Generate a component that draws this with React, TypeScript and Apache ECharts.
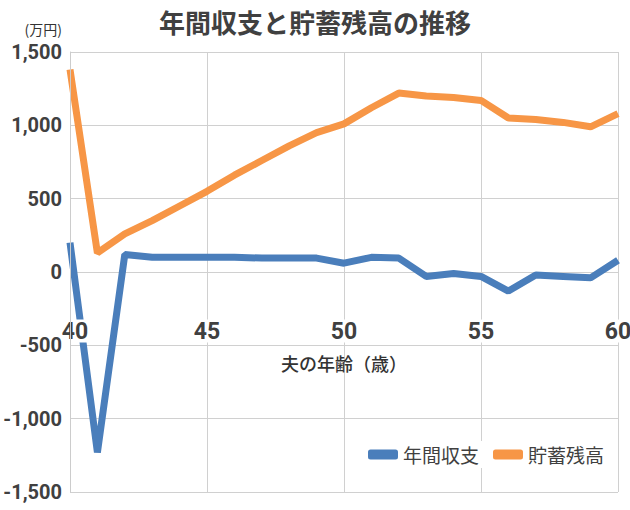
import React, { useEffect, useRef } from "react";
import * as echarts from "echarts";

const ages = [40, 41, 42, 43, 44, 45, 46, 47, 48, 49, 50, 51, 52, 53, 54, 55, 56, 57, 58, 59, 60];
const annualBalance = [200, -1230, 120, 100, 100, 100, 100, 95, 95, 95, 60, 100, 95, -30, -10, -30, -130, -20, -30, -40, 80];
const savings = [1380, 130, 260, 350, 450, 550, 660, 760, 860, 950, 1010, 1120, 1220, 1200, 1190, 1170, 1050, 1040, 1020, 990, 1080];
const seriesNames = ["年間収支", "貯蓄残高"];
const titleText = "年間収支と貯蓄残高の推移";
const xName = "夫の年齢（歳）";
const yName = "(万円)";

const numFont = "Roboto, 'Liberation Sans', sans-serif";
const cjkFont = "'Noto Sans CJK JP', 'Noto Sans', sans-serif";

export default function App() {
  const ref = useRef<HTMLDivElement>(null);
  useEffect(() => {
    if (!ref.current) return;
    const chart = echarts.init(ref.current, undefined, { renderer: "svg" });
    const labelStyle = {
      fontFamily: numFont,
      fontWeight: "bold",
      fontSize: 23,
      lineHeight: 18,
      color: "#404040",
      backgroundColor: "#fff",
    };
    chart.setOption({
      animation: false,
      backgroundColor: "#fff",
      title: {
        text: titleText,
        left: "center",
        top: 3,
        textStyle: { fontFamily: cjkFont, fontSize: 26, fontWeight: "bold", color: "#404040" },
      },
      legend: {
        data: seriesNames,
        left: 364,
        top: 441,
        icon: "roundRect",
        itemWidth: 30,
        itemHeight: 10,
        itemGap: 14,
        backgroundColor: "#fff",
        padding: [4, 4],
        textStyle: { fontFamily: cjkFont, fontSize: 19, color: "#404040" },
      },
      grid: { left: 70, right: 12, top: 52, bottom: 18, containLabel: false, outerBoundsMode: "none" },
      xAxis: [
        {
          type: "value",
          position: "bottom",
          min: 40,
          max: 60,
          interval: 5,
          z: 0,
          axisLine: { show: false },
          axisTick: { show: false },
          axisLabel: { show: false },
          splitLine: { show: true, lineStyle: { color: "#d0d0d0", width: 1 } },
        },
        {
          type: "value",
          position: "bottom",
          offset: -220,
          min: 40,
          max: 60,
          interval: 5,
          z: 10,
          name: xName,
          nameLocation: "middle",
          nameGap: 82,
          nameTextStyle: { fontFamily: cjkFont, fontSize: 18, fontWeight: 500, color: "#333" },
          axisLine: { show: false, onZero: false },
          axisTick: { show: false },
          axisLabel: {
            margin: 50,
            formatter: (v: number) => (v === 40 ? `{first|${v}}` : `{n|${v}}`),
            rich: {
              n: { ...labelStyle, padding: [0, 1] },
              first: { ...labelStyle, padding: [0, 0, 0, 10] },
            },
          },
          splitLine: { show: false },
        },
      ],
      yAxis: [
        {
          type: "value",
          min: -1500,
          max: 1500,
          interval: 500,
          z: 0,
          axisLine: { show: false },
          axisTick: { show: false },
          axisLabel: { show: false },
          splitLine: { show: true, lineStyle: { color: "#d0d0d0", width: 1 } },
        },
        {
          type: "value",
          position: "left",
          min: -1500,
          max: 1500,
          interval: 500,
          z: 11,
          name: yName,
          nameLocation: "end",
          nameGap: 16,
          nameTextStyle: { fontFamily: cjkFont, fontSize: 14, color: "#333", align: "right", padding: [0, 8, 0, 0] },
          axisLine: { show: true, onZero: false, lineStyle: { color: "#ccc", width: 1 } },
          axisTick: { show: false },
          axisLabel: {
            margin: 8,
            fontFamily: numFont,
            fontWeight: "bold",
            fontSize: 20,
            color: "#404040",
            formatter: (v: number) => v.toLocaleString("en-US"),
          },
          splitLine: { show: false },
        },
      ],
      series: [
        {
          name: seriesNames[0],
          type: "line",
          xAxisIndex: 0,
          yAxisIndex: 0,
          data: ages.map((a, i) => [a, annualBalance[i]]),
          showSymbol: false,
          symbol: "none",
          lineStyle: { color: "#4A7EBB", width: 7 },
          itemStyle: { color: "#4A7EBB" },
          z: 3,
        },
        {
          name: seriesNames[1],
          type: "line",
          xAxisIndex: 0,
          yAxisIndex: 0,
          data: ages.map((a, i) => [a, savings[i]]),
          showSymbol: false,
          symbol: "none",
          lineStyle: { color: "#F79646", width: 7 },
          itemStyle: { color: "#F79646" },
          z: 3,
        },
      ],
    });
    return () => chart.dispose();
  }, []);
  return <div ref={ref} style={{ width: 630, height: 510, position: "absolute", left: 0, top: 0 }} />;
}
